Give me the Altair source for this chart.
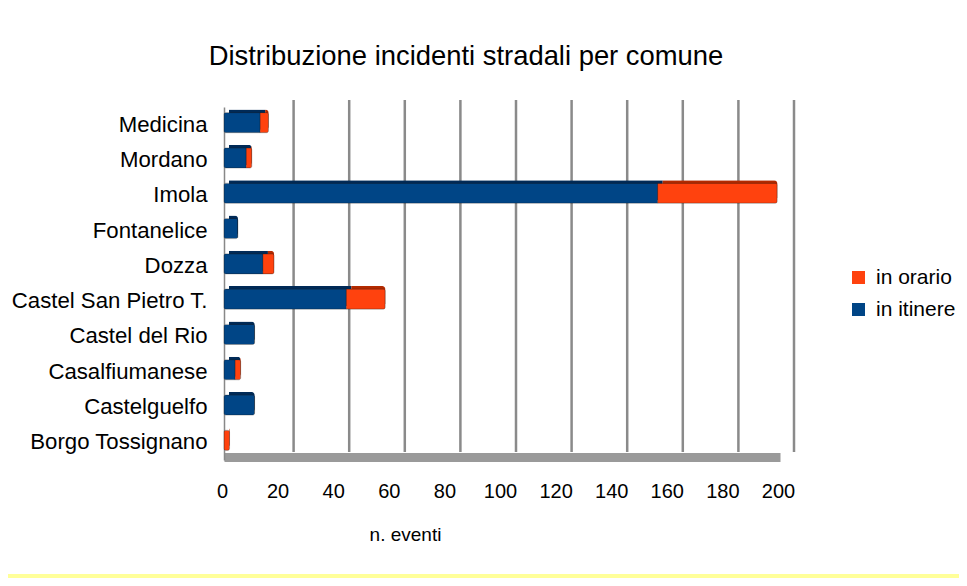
import altair as alt
import pandas as pd

comuni = ["Medicina", "Mordano", "Imola", "Fontanelice", "Dozza",
          "Castel San Pietro T.", "Castel del Rio", "Casalfiumanese",
          "Castelguelfo", "Borgo Tossignano"]
in_itinere = [13, 8, 156, 5, 14, 44, 11, 4, 11, 0]
in_orario = [3, 2, 43, 0, 4, 14, 0, 2, 0, 2]
serie = ["in orario", "in itinere"]
colori = ["#ff420e", "#004586"]
colori_scuri = ["#b32a00", "#002a57"]
tick_vals = [0, 20, 40, 60, 80, 100, 120, 140, 160, 180, 200]
grid_vals = [20, 40, 60, 80, 100, 120, 140, 160, 180, 200]

rows = []
for c, a, b in zip(comuni, in_itinere, in_orario):
    rows.append({"comune": c, "serie": "in itinere", "n": a, "ord": 0})
    rows.append({"comune": c, "serie": "in orario", "n": b, "ord": 1})
df = pd.DataFrame(rows)
grid_df = pd.DataFrame({"v": grid_vals})

FONT = "Liberation Sans"
W, H = 556, 353

xscale = alt.Scale(domain=[0, 200], nice=False, zero=True)
yscale = alt.Scale(domain=comuni, paddingInner=0.43, paddingOuter=0.215)

x_axis = alt.Axis(values=tick_vals, grid=False, ticks=False, domain=True,
                  domainColor="#9a9a9a", domainWidth=9, offset=-3,
                  labelFontSize=20, labelFont=FONT, labelColor="#000",
                  labelPadding=24, labelOffset=-2, labelFlush=False,
                  labelOverlap=False, labelBound=False,
                  title="n. eventi", titleFont=FONT, titleFontSize=19,
                  titleFontWeight="normal", titleColor="#000",
                  titleX=181, titleY=83, titleAlign="center",
                  titleBaseline="alphabetic")
y_axis = alt.Axis(title=None, ticks=False, domain=True, domainColor="#888",
                  domainWidth=1.5, labelFontSize=22.2, labelFont=FONT,
                  labelColor="#000", labelPadding=17, labelLimit=400)

band_bottom = alt.Chart(pd.DataFrame({"k": [0]})).mark_rect(color="#ffff99").encode(
    x=alt.value(-216), x2=alt.value(735), y=alt.value(467), y2=alt.value(471))

grid = alt.Chart(grid_df).mark_rule(color="#8a8a8a", strokeWidth=2.5, xOffset=14).encode(
    x=alt.X("v:Q", scale=xscale, axis=x_axis, title="n. eventi"),
    y=alt.value(-7), y2=alt.value(345))

depth = alt.Chart(df).mark_bar(xOffset=5, yOffset=-5, cornerRadius=3).encode(
    x=alt.X("n:Q", stack="zero", scale=xscale, axis=x_axis, title="n. eventi"),
    y=alt.Y("comune:N", scale=yscale, sort=comuni, axis=y_axis),
    color=alt.Color("serie:N", scale=alt.Scale(domain=serie, range=colori_scuri), legend=None),
    order=alt.Order("ord:Q"))

bars = alt.Chart(df).mark_bar(yOffset=-2, cornerRadius=2, stroke="#1a1a1a",
                              strokeOpacity=0.25, strokeWidth=1).encode(
    x=alt.X("n:Q", stack="zero", scale=xscale, axis=x_axis, title="n. eventi"),
    y=alt.Y("comune:N", scale=yscale, sort=comuni, axis=y_axis),
    color=alt.Color("serie:N", scale=alt.Scale(domain=serie, range=colori),
                    legend=alt.Legend(title=None, orient="none", legendX=624, legendY=160,
                                      symbolType="square", symbolSize=169,
                                      symbolStrokeWidth=0, labelFontSize=21,
                                      labelFont=FONT, labelColor="#000",
                                      labelOffset=7, rowPadding=10, padding=0)),
    order=alt.Order("ord:Q"))

chart = alt.layer(band_bottom, grid, depth, bars).resolve_scale(
    color="independent"
).properties(
    width=W, height=H,
    autosize=alt.AutoSizeParams(type="none"),
    padding={"left": 216, "top": 99, "right": 179, "bottom": 118},
    background="white",
    title=alt.TitleParams("Distribuzione incidenti stradali per comune",
                          font=FONT, fontSize=27.4, fontWeight="normal", color="#000",
                          anchor="middle", dx=-36, offset=6, baseline="alphabetic"),
).configure_view(stroke=None)

chart.save("out.html", embed_options={"renderer": "svg", "actions": False})
